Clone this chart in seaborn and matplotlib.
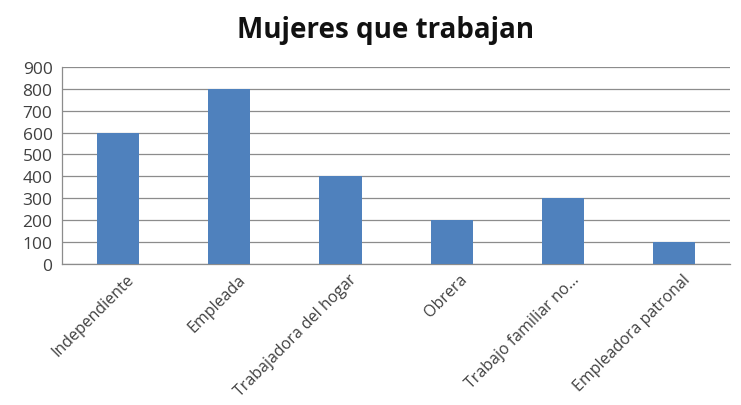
import pandas as pd
import numpy as np
import matplotlib
matplotlib.use("Agg")
import matplotlib.pyplot as plt
import matplotlib.transforms as mtransforms
import seaborn as sns

# Data
categorias = ["Independiente", "Empleada", "Trabajadora del hogar",
              "Obrera", "Trabajo familiar no...", "Empleadora patronal"]
mujeres = [600, 800, 400, 200, 300, 100]
yticks = [0, 100, 200, 300, 400, 500, 600, 700, 800, 900]

df = pd.DataFrame({"categoria": categorias, "mujeres": mujeres})

sns.set_style("white")
plt.rcParams["font.family"] = ["Open Sans", "DejaVu Sans"]

fig = plt.figure(figsize=(7.41, 4.06), dpi=100)
ax = fig.add_axes([0.084, 0.347, 0.901, 0.486])

sns.barplot(data=df, x="categoria", y="mujeres", color="#4F81BD",
            width=0.38, saturation=1, linewidth=0, ax=ax, zorder=3)

ax.set_ylim(0, 900)
ax.set_yticks(yticks)
ax.set_xlim(-0.5, len(categorias) - 0.5)
ax.yaxis.grid(True, color="#8C8C8C", linewidth=0.9, zorder=0)
ax.set_axisbelow(True)

for s in ["top", "right"]:
    ax.spines[s].set_visible(False)
for s in ["left", "bottom"]:
    ax.spines[s].set_color("#8C8C8C")
    ax.spines[s].set_linewidth(0.9)

# Excel-style tick marks between categories
ax.set_xticks(np.arange(len(categorias)))
ax.set_xticklabels(categorias, rotation=45, ha="right", rotation_mode="anchor",
                   fontsize=11.5, color="#404040")
ax.tick_params(axis="x", length=0, pad=5)
ax.set_xticks(np.arange(-0.5, len(categorias)), minor=True)
ax.tick_params(axis="x", which="minor", length=4, color="#8C8C8C", width=0.9)
ax.tick_params(axis="y", length=4, color="#8C8C8C", width=0.9,
               labelsize=12.5, labelcolor="#404040", pad=3)
ax.set_xlabel("")
ax.set_ylabel("")

# nudge rotated labels a little to the right, like the original
shift = mtransforms.ScaledTranslation(8 / 100, 0, fig.dpi_scale_trans)
for lbl in ax.get_xticklabels():
    lbl.set_transform(lbl.get_transform() + shift)

fig.suptitle("Mujeres que trabajan", x=0.52, y=0.96, fontsize=20,
             fontweight="bold", color="#111111")

fig.savefig("out.png", dpi=100)
